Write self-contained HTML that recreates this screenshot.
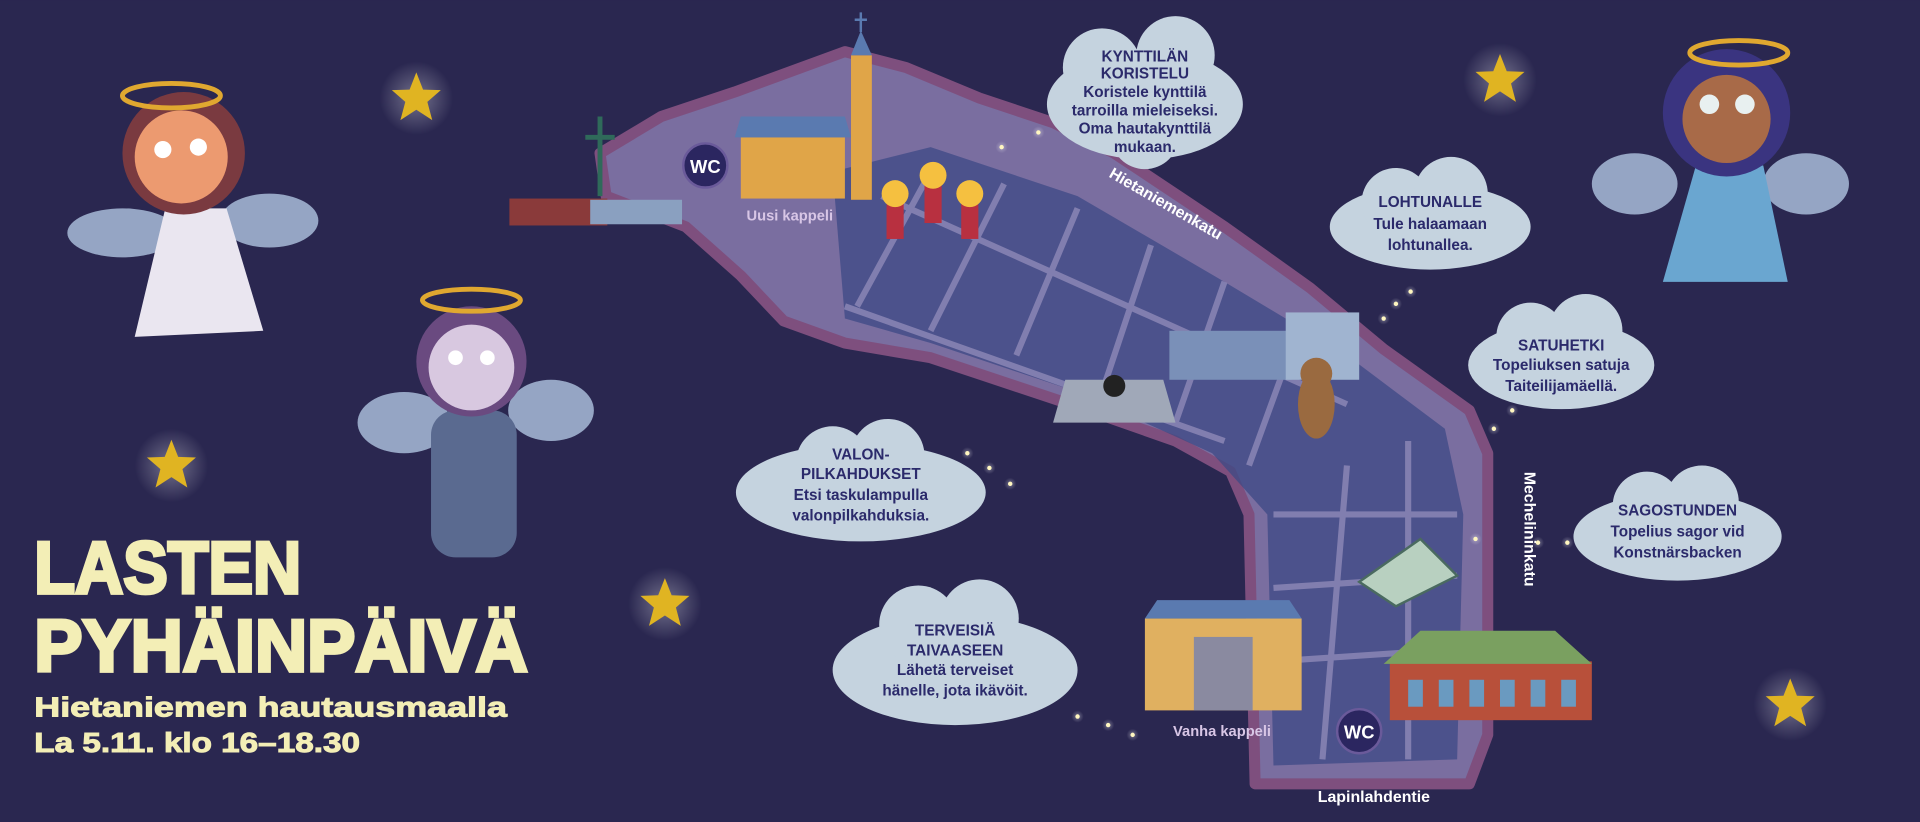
<!DOCTYPE html>
<html><head><meta charset="utf-8"><style>
html,body{margin:0;padding:0;background:#2a2750;}
svg{display:block}
text{font-family:"Liberation Sans",sans-serif;font-weight:bold}
</style></head><body>
<svg width="1920" height="822" viewBox="0 0 1568 671" xmlns="http://www.w3.org/2000/svg">
<defs>
<radialGradient id="glow"><stop offset="0" stop-color="#ffffff" stop-opacity=".35"/><stop offset="1" stop-color="#ffffff" stop-opacity="0"/></radialGradient>
<g id="star"><circle r="30" fill="url(#glow)"/><polygon points="0,-21 5.5,-7 20,-6.5 9,3 13,18 0,9.5 -13,18 -9,3 -20,-6.5 -5.5,-7" fill="#e0b422"/></g>
<g id="dot"><circle r="5" fill="url(#glow)"/><circle r="1.8" fill="#fff6c0"/></g>
</defs>
<rect width="1568" height="671" fill="#2a2750"/>

<!-- map -->
<polygon points="490,125 540,95 600,75 690,42 740,55 800,80 860,100 910,125 1000,185 1070,235 1130,285 1200,335 1215,370 1215,600 1200,640 1025,640 1020,420 1005,385 960,360 880,332 760,292 690,280 640,262 605,225 560,185 495,160" fill="#7a6ea0" stroke="#7e4f7e" stroke-width="9" stroke-linejoin="round"/>
<polygon points="680,140 760,120 880,160 1000,230 1100,290 1180,350 1195,420 1190,620 1040,625 1035,420 990,370 880,320 760,280 690,260" fill="#3d4a85" opacity=".75"/>
<g stroke="#8e8ab8" stroke-width="5" fill="none" opacity=".8">
<path d="M690,250 L1000,360 M720,160 L1100,330 M760,140 L700,250 M820,150 L760,270 M880,170 L830,290 M940,200 L900,320 M1000,230 L960,345 M1060,270 L1020,380 M1040,420 L1190,420 M1040,480 L1190,470 M1040,540 L1190,530 M1100,380 L1080,620 M1150,360 L1150,620"/>
</g>
<rect x="416" y="162" width="80" height="22" fill="#8a3a3a"/>
<rect x="482" y="163" width="75" height="20" fill="#8aa0c0"/>
<path d="M490,95 V160 M478,112 H502" stroke="#2f6a5a" stroke-width="4"/>

<!-- Uusi kappeli -->
<rect x="605" y="112" width="85" height="50" fill="#e0a548"/>
<polygon points="600,112 605,95 690,95 695,112" fill="#5a7ab0"/>
<rect x="695" y="45" width="17" height="118" fill="#e0a548"/>
<polygon points="695,45 703,25 712,45" fill="#5a7ab0"/>
<path d="M703,10 V26 M698,16 H708" stroke="#5a7ab0" stroke-width="2"/>
<circle cx="576" cy="135" r="18" fill="#2b2660" stroke="#6a5a9a" stroke-width="2"/>
<text x="576" y="141" font-size="15" fill="#fff" text-anchor="middle">WC</text>
<text x="645" y="180" font-size="12" fill="#d8c6e6" text-anchor="middle">Uusi kappeli</text>
<!-- candles -->
<g fill="#b83040"><rect x="724" y="165" width="14" height="30"/><rect x="755" y="150" width="14" height="32"/><rect x="785" y="165" width="14" height="30"/></g>
<g fill="#f5c040"><circle cx="731" cy="158" r="11"/><circle cx="762" cy="143" r="11"/><circle cx="792" cy="158" r="11"/></g>
<!-- fountain/monuments -->
<polygon points="860,345 870,310 950,310 960,345" fill="#a0a8b8"/>
<circle cx="910" cy="315" r="9" fill="#222"/>
<rect x="955" y="270" width="100" height="40" fill="#7a90b8"/>
<rect x="1050" y="255" width="60" height="55" fill="#a0b4d0"/>
<ellipse cx="1075" cy="330" rx="15" ry="28" fill="#9a6a40"/>
<circle cx="1075" cy="305" r="13" fill="#9a6a40"/>
<!-- book -->
<polygon points="1110,475 1160,440 1190,470 1140,495" fill="#b8d0c0" stroke="#4a6a60" stroke-width="2"/>
<!-- Vanha kappeli -->
<rect x="935" y="505" width="128" height="75" fill="#e0b060"/>
<polygon points="935,505 945,490 1053,490 1063,505" fill="#5a7ab0"/>
<rect x="975" y="520" width="48" height="60" fill="#8a8aa0"/>
<text x="998" y="601" font-size="12" fill="#d8c6e6" text-anchor="middle">Vanha kappeli</text>
<!-- red building -->
<rect x="1135" y="540" width="165" height="48" fill="#b8503a"/>
<polygon points="1130,542 1160,515 1270,515 1300,542" fill="#7aa060"/>
<g fill="#6a9ac0"><rect x="1150" y="555" width="12" height="22"/><rect x="1175" y="555" width="12" height="22"/><rect x="1200" y="555" width="12" height="22"/><rect x="1225" y="555" width="12" height="22"/><rect x="1250" y="555" width="12" height="22"/><rect x="1275" y="555" width="12" height="22"/></g>
<circle cx="1110" cy="597" r="18" fill="#2b2660" stroke="#6a5a9a" stroke-width="2"/>
<text x="1110" y="603" font-size="15" fill="#fff" text-anchor="middle">WC</text>

<!-- street labels -->
<text x="950" y="170" font-size="13" fill="#fff" text-anchor="middle" transform="rotate(30 950 170)">Hietaniemenkatu</text>
<text x="1245" y="432" font-size="13" fill="#fff" text-anchor="middle" transform="rotate(90 1245 432)">Mechelininkatu</text>
<text x="1122" y="655" font-size="13" fill="#fff" text-anchor="middle">Lapinlahdentie</text>

<!-- clouds -->
<g fill="#c5d3df">
<ellipse cx="935" cy="85" rx="80" ry="45"/><circle cx="900" cy="55" r="32"/><circle cx="960" cy="45" r="32"/><circle cx="935" cy="110" r="28"/>
<ellipse cx="1168" cy="185" rx="82" ry="35"/><circle cx="1140" cy="165" r="28"/><circle cx="1185" cy="158" r="30"/>
<ellipse cx="1275" cy="298" rx="76" ry="36"/><circle cx="1250" cy="275" r="28"/><circle cx="1295" cy="270" r="30"/>
<ellipse cx="1370" cy="438" rx="85" ry="36"/><circle cx="1345" cy="413" r="28"/><circle cx="1390" cy="410" r="30"/>
<ellipse cx="703" cy="402" rx="102" ry="40"/><circle cx="680" cy="378" r="30"/><circle cx="725" cy="372" r="30"/>
<ellipse cx="780" cy="547" rx="100" ry="45"/><circle cx="750" cy="510" r="32"/><circle cx="800" cy="505" r="32"/>
</g>
<g fill="#2b2a6b" text-anchor="middle" font-size="12.5">
<text x="935" y="50">KYNTTILÄN</text><text x="935" y="64">KORISTELU</text>
<text x="935" y="79">Koristele kynttilä</text><text x="935" y="94">tarroilla mieleiseksi.</text><text x="935" y="109">Oma hautakynttilä</text><text x="935" y="124">mukaan.</text>
<text x="1168" y="169">LOHTUNALLE</text><text x="1168" y="187">Tule halaamaan</text><text x="1168" y="204">lohtunallea.</text>
<text x="1275" y="286">SATUHETKI</text><text x="1275" y="302">Topeliuksen satuja</text><text x="1275" y="319">Taiteilijamäellä.</text>
<text x="1370" y="421">SAGOSTUNDEN</text><text x="1370" y="438">Topelius sagor vid</text><text x="1370" y="455">Konstnärsbacken</text>
<text x="703" y="375">VALON-</text><text x="703" y="391">PILKAHDUKSET</text><text x="703" y="408">Etsi taskulampulla</text><text x="703" y="425">valonpilkahduksia.</text>
<text x="780" y="519">TERVEISIÄ</text><text x="780" y="535">TAIVAASEEN</text><text x="780" y="551">Lähetä terveiset</text><text x="780" y="568">hänelle, jota ikävöit.</text>
</g>

<!-- dots -->
<use href="#dot" x="818" y="120"/><use href="#dot" x="848" y="108"/><use href="#dot" x="1130" y="260"/><use href="#dot" x="1140" y="248"/><use href="#dot" x="1152" y="238"/>
<use href="#dot" x="1220" y="350"/><use href="#dot" x="1235" y="335"/><use href="#dot" x="1256" y="443"/><use href="#dot" x="1280" y="443"/>
<use href="#dot" x="790" y="370"/><use href="#dot" x="808" y="382"/><use href="#dot" x="825" y="395"/>
<use href="#dot" x="880" y="585"/><use href="#dot" x="905" y="592"/><use href="#dot" x="925" y="600"/><use href="#dot" x="1205" y="440"/>

<!-- stars -->
<use href="#star" x="340" y="80"/><use href="#star" x="140" y="380"/><use href="#star" x="543" y="493"/><use href="#star" x="1225" y="65"/><use href="#star" x="1462" y="575"/>

<!-- angel 1 -->
<g>
<ellipse cx="100" cy="190" rx="45" ry="20" fill="#a8bcd8" opacity=".85"/><ellipse cx="220" cy="180" rx="40" ry="22" fill="#a8bcd8" opacity=".85"/>
<polygon points="135,170 185,170 215,270 110,275" fill="#eae6f0"/>
<circle cx="150" cy="125" r="50" fill="#7a3a40"/>
<circle cx="148" cy="128" r="38" fill="#ec9a70"/>
<circle cx="133" cy="122" r="7" fill="#fff"/><circle cx="162" cy="120" r="7" fill="#fff"/>
<ellipse cx="140" cy="78" rx="40" ry="10" fill="none" stroke="#e0a830" stroke-width="4"/>
</g>
<!-- angel 2 -->
<g>
<ellipse cx="330" cy="345" rx="38" ry="25" fill="#a8bcd8" opacity=".85"/><ellipse cx="450" cy="335" rx="35" ry="25" fill="#a8bcd8" opacity=".85"/>
<rect x="352" y="335" width="70" height="120" rx="20" fill="#5a6a90"/>
<circle cx="385" cy="295" r="45" fill="#6a4a80"/>
<circle cx="385" cy="300" r="35" fill="#d8c8e0"/>
<circle cx="372" cy="292" r="6" fill="#fff"/><circle cx="398" cy="292" r="6" fill="#fff"/>
<ellipse cx="385" cy="245" rx="40" ry="9" fill="none" stroke="#e0a830" stroke-width="4"/>
</g>
<!-- angel 3 -->
<g>
<ellipse cx="1335" cy="150" rx="35" ry="25" fill="#a8bcd8" opacity=".85"/><ellipse cx="1475" cy="150" rx="35" ry="25" fill="#a8bcd8" opacity=".85"/>
<polygon points="1385,135 1440,135 1460,230 1358,230" fill="#6aa6d0"/>
<circle cx="1410" cy="92" r="52" fill="#3a3480"/>
<circle cx="1410" cy="97" r="36" fill="#a86a48"/>
<circle cx="1396" cy="85" r="8" fill="#e8f0f0"/><circle cx="1425" cy="85" r="8" fill="#e8f0f0"/>
<ellipse cx="1420" cy="43" rx="40" ry="10" fill="none" stroke="#e0a830" stroke-width="4"/>
</g>

<!-- title -->
<g fill="#f3eeb6" stroke="#f3eeb6" font-family="'Liberation Sans',sans-serif" font-weight="bold">
<text x="28" y="484" font-size="60" stroke-width="3" textLength="218" lengthAdjust="spacingAndGlyphs">LASTEN</text>
<text x="28" y="548" font-size="60" stroke-width="3" textLength="403" lengthAdjust="spacingAndGlyphs">PYHÄINPÄIVÄ</text>
<text x="28" y="585" font-size="23" stroke-width="0.8" textLength="386" lengthAdjust="spacingAndGlyphs">Hietaniemen hautausmaalla</text>
<text x="28" y="614" font-size="23" stroke-width="0.8" textLength="266" lengthAdjust="spacingAndGlyphs">La 5.11. klo 16–18.30</text>
</g>
</svg>
</body></html>
